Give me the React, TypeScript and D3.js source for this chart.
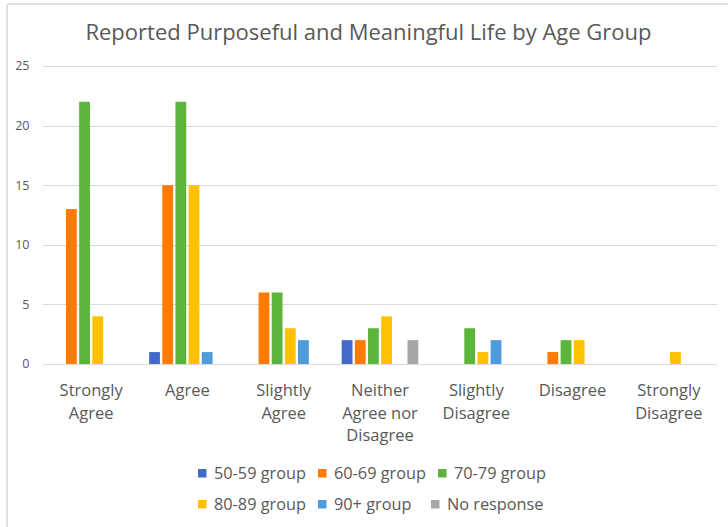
import React, { useEffect, useRef } from "react";
import * as d3 from "d3";

const title = "Reported Purposeful and Meaningful Life by Age Group";
const categories = [
  "Strongly Agree",
  "Agree",
  "Slightly Agree",
  "Neither Agree nor Disagree",
  "Slightly Disagree",
  "Disagree",
  "Strongly Disagree",
];
const seriesNames = ["50-59 group", "60-69 group", "70-79 group", "80-89 group", "90+ group", "No response"];
const seriesColors = ["#4168CB", "#FF7A00", "#5CB43A", "#FFC000", "#4D9BDA", "#A6A6A6"];
const g5059 = [0, 1, 0, 2, 0, 0, 0];
const g6069 = [13, 15, 6, 2, 0, 1, 0];
const g7079 = [22, 22, 6, 3, 3, 2, 0];
const g8089 = [4, 15, 3, 4, 1, 2, 1];
const g90 = [0, 1, 2, 0, 2, 0, 0];
const gNone = [0, 0, 0, 2, 0, 0, 0];
const seriesValues = [g5059, g6069, g7079, g8089, g90, gNone];
const yTicks = [0, 5, 10, 15, 20, 25];

const W = 728;
const H = 527;
const FONT = "'Open Sans', 'DejaVu Sans', sans-serif";
const TEXT = "#595959";

export default function App() {
  const ref = useRef<SVGSVGElement | null>(null);

  useEffect(() => {
    const svg = d3.select(ref.current);
    svg.selectAll("*").remove();

    // chart border
    svg
      .append("rect")
      .attr("x", 7)
      .attr("y", 4)
      .attr("width", 900)
      .attr("height", 700)
      .attr("rx", 3)
      .attr("fill", "#fff")
      .attr("stroke", "#D9D9D9")
      .attr("stroke-width", 1.5);

    svg
      .append("text")
      .attr("x", 368.5)
      .attr("y", 39.5)
      .attr("text-anchor", "middle")
      .attr("font-family", FONT)
      .attr("font-size", 22)
      .attr("fill", TEXT)
      .text(title);

    const left = 43;
    const right = 717;
    const y = d3.scaleLinear().domain([0, 25]).range([364, 66]);
    const x0 = d3.scaleBand<string>().domain(categories).range([left, right]).paddingInner(0.18).paddingOuter(0.09);
    const x1 = d3
      .scaleBand<string>()
      .domain(seriesNames)
      .range([0, x0.bandwidth()])
      .paddingInner(0.18)
      .paddingOuter(0.09);

    // gridlines
    svg
      .append("g")
      .selectAll("line")
      .data(yTicks)
      .join("line")
      .attr("x1", left)
      .attr("x2", right)
      .attr("y1", (d) => Math.round(y(d)) + 0.5)
      .attr("y2", (d) => Math.round(y(d)) + 0.5)
      .attr("stroke", "#D9D9D9")
      .attr("stroke-width", 1.2);

    svg
      .append("g")
      .selectAll("text")
      .data(yTicks)
      .join("text")
      .attr("x", 29.5)
      .attr("y", (d) => y(d))
      .attr("dy", "0.35em")
      .attr("text-anchor", "end")
      .attr("font-family", FONT)
      .attr("font-size", 12.5)
      .attr("fill", TEXT)
      .text((d) => String(d));

    // bars
    const barG = svg.append("g");
    seriesNames.forEach((s, si) => {
      barG
        .append("g")
        .selectAll("rect")
        .data(seriesValues[si].map((v, ci) => ({ v, c: categories[ci] })))
        .join("rect")
        .attr("x", (d) => (x0(d.c) as number) + (x1(s) as number))
        .attr("width", x1.bandwidth())
        .attr("y", (d) => y(d.v))
        .attr("height", (d) => y(0) - y(d.v))
        .attr("fill", seriesColors[si]);
    });

    // category labels with wrapping
    const catG = svg.append("g");
    const maxW = 84;
    categories.forEach((c) => {
      const cx = (x0(c) as number) + x0.bandwidth() / 2;
      const t = catG
        .append("text")
        .attr("text-anchor", "middle")
        .attr("font-family", FONT)
        .attr("font-size", 16.5)
        .attr("fill", TEXT);
      const words = c.split(" ");
      const lines: string[] = [];
      let cur = "";
      const probe = t.append("tspan");
      words.forEach((w) => {
        const test = cur ? cur + " " + w : w;
        probe.text(test);
        const len = (probe.node() as SVGTSpanElement).getComputedTextLength();
        if (len > maxW && cur) {
          lines.push(cur);
          cur = w;
        } else {
          cur = test;
        }
      });
      if (cur) lines.push(cur);
      probe.remove();
      lines.forEach((ln, i) => {
        t.append("tspan")
          .attr("x", cx)
          .attr("y", 396 + i * 22.5)
          .text(ln);
      });
    });

    // legend
    const legendPos = [
      [198, 473],
      [318, 473],
      [438, 473],
      [198, 504],
      [318, 504],
      [431, 504],
    ];
    const lg = svg.append("g");
    seriesNames.forEach((s, i) => {
      const [lx, ly] = legendPos[i];
      lg.append("rect")
        .attr("x", lx)
        .attr("y", ly - 4)
        .attr("width", 8.5)
        .attr("height", 8.5)
        .attr("fill", seriesColors[i]);
      lg.append("text")
        .attr("x", lx + 16)
        .attr("y", ly)
        .attr("dy", "0.36em")
        .attr("font-family", FONT)
        .attr("font-size", 16.3)
        .attr("fill", TEXT)
        .text(s);
    });
  }, []);

  return (
    <svg
      ref={ref}
      width={W}
      height={H}
      style={{ position: "absolute", left: 0, top: 0, display: "block", background: "#fff" }}
    />
  );
}
